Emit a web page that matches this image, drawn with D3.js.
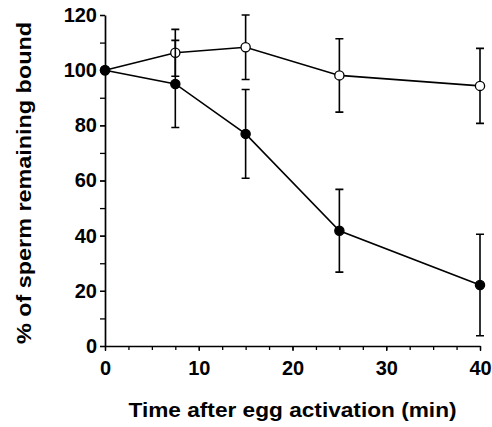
<!DOCTYPE html>
<html>
<head>
<meta charset="utf-8">
<script src="https://cdn.jsdelivr.net/npm/d3@7"></script>
<style>
  body { margin: 0; background: #fff; }
  text { font-family: "Liberation Sans", Arial, Helvetica, sans-serif; font-weight: bold; fill: #000; }
</style>
</head>
<body>
<div id="chart"></div>
<script>
// values
let times = [0, 7.5, 15, 25, 40];
let openMean = [100, 106.3, 108.3, 98.1, 94.3];
let openErr = [0, 8.5, 11.7, 13.3, 13.6];
let filledMean = [100, 95, 76.9, 41.8, 22.1];
let filledErr = [0, 15.8, 16.1, 15, 18.4];
let xTicks = [0, 10, 20, 30, 40];
let yTicks = [0, 20, 40, 60, 80, 100, 120];

let dimension = {
    width: 492,
    height: 427,
    margin: { top: 15, left: 105, right: 12, bottom: 81 }
};

let svg = d3.select("#chart")
    .append("svg")
    .attr("width", dimension.width)
    .attr("height", dimension.height);

let X = d3.scaleLinear()
    .domain([0, 40])
    .range([dimension.margin.left, dimension.width - dimension.margin.right]);
let Y = d3.scaleLinear()
    .domain([0, 120])
    .range([dimension.height - dimension.margin.bottom, dimension.margin.top]);

// minor ticks first, then the labelled ones
svg.append("g")
    .attr("transform", "translate(0," + Y(0) + ")")
    .call(d3.axisBottom(X).tickValues(d3.range(0, 40.1, 2.5)).tickSize(4).tickFormat(""))
    .call(g => g.select(".domain").remove());
svg.append("g")
    .attr("transform", "translate(" + X(0) + ",0)")
    .call(d3.axisLeft(Y).tickValues(d3.range(0, 121, 10)).tickSize(5).tickFormat(""))
    .call(g => g.select(".domain").remove());

let xAxis = svg.append("g")
    .attr("class", "axis x-axis")
    .attr("transform", "translate(0," + Y(0) + ")")
    .call(d3.axisBottom(X).tickValues(xTicks).tickSize(5).tickPadding(10).tickSizeOuter(0));
let yAxis = svg.append("g")
    .attr("class", "axis y-axis")
    .attr("transform", "translate(" + X(0) + ",0)")
    .call(d3.axisLeft(Y).tickValues(yTicks).tickSize(5).tickPadding(3).tickSizeOuter(0));

svg.selectAll(".tick line").attr("stroke", "#000").attr("stroke-width", 1.3);
svg.selectAll(".domain").attr("stroke", "#000").attr("stroke-width", 1.7);
xAxis.selectAll("text").style("font-size", "20px").attr("fill", "#000");
yAxis.selectAll("text").style("font-size", "20px").attr("fill", "#000");

// axis titles
svg.append("text")
    .attr("x", (X(0) + X(40)) / 2)
    .attr("y", 417)
    .attr("text-anchor", "middle")
    .attr("textLength", 328)
    .attr("lengthAdjust", "spacingAndGlyphs")
    .style("font-size", "21px")
    .text("Time after egg activation (min)");

svg.append("text")
    .attr("transform", "translate(31," + 183 + ") rotate(-90)")
    .attr("text-anchor", "middle")
    .attr("textLength", 322)
    .attr("lengthAdjust", "spacingAndGlyphs")
    .style("font-size", "21px")
    .text("% of sperm remaining bound");

let series = [
    { mean: openMean, err: openErr, fill: "#fff" },
    { mean: filledMean, err: filledErr, fill: "#000" }
];

let line = d3.line()
    .x(d => X(d.t))
    .y(d => Y(d.v));

series.forEach(s => {
    let pts = times.map((t, i) => ({ t: t, v: s.mean[i], e: s.err[i] }));
    let g = svg.append("g");

    g.selectAll(".err")
        .data(pts.filter(d => d.e > 0))
        .enter()
        .append("path")
        .attr("d", d => {
            let x = X(d.t), y1 = Y(d.v + d.e), y2 = Y(d.v - d.e);
            return `M${x},${y1}V${y2}M${x - 4},${y1}H${x + 4}M${x - 4},${y2}H${x + 4}`;
        })
        .attr("stroke", "#000")
        .attr("stroke-width", 1.6)
        .attr("fill", "none");

    g.append("path")
        .datum(pts)
        .attr("d", line)
        .attr("stroke", "#000")
        .attr("stroke-width", 1.6)
        .attr("fill", "none");

    g.selectAll("circle")
        .data(pts)
        .enter()
        .append("circle")
        .attr("cx", d => X(d.t))
        .attr("cy", d => Y(d.v))
        .attr("r", 4.6)
        .attr("fill", s.fill)
        .attr("stroke", "#000")
        .attr("stroke-width", 1.3);
});
</script>
</body>
</html>
